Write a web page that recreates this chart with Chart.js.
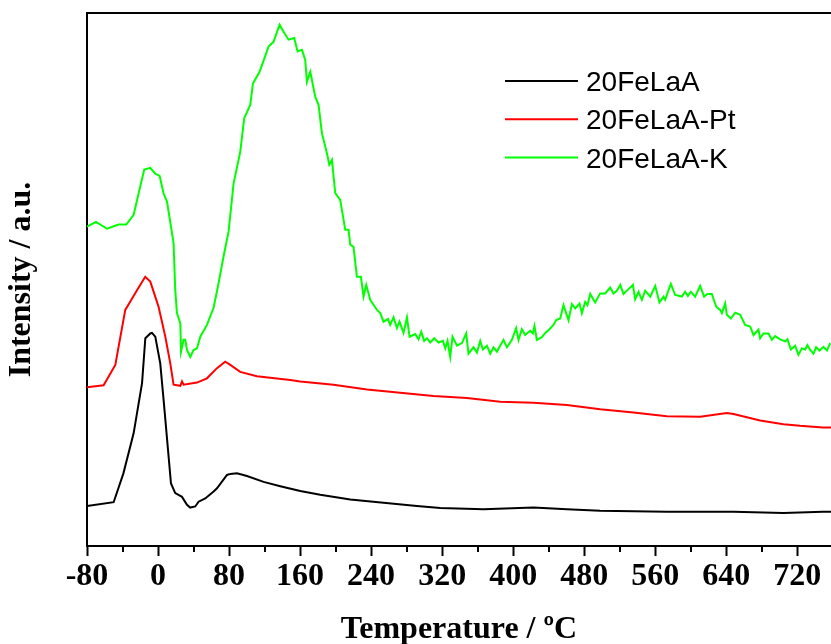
<!DOCTYPE html>
<html><head><meta charset="utf-8">
<script src="https://cdn.jsdelivr.net/npm/chart.js@4.4.0/dist/chart.umd.min.js"></script>
<style>html,body{margin:0;padding:0;background:#fff;}canvas{display:block;}</style>
</head><body>
<canvas id="c" width="831" height="644"></canvas>
<script>
// ---- data ----
const seriesNames = ['20FeLaA', '20FeLaA-Pt', '20FeLaA-K'];
const seriesColors = ['#000000', '#ff0000', '#00ff00'];
const xTickValues = [-80, 0, 80, 160, 240, 320, 400, 480, 560, 640, 720];
const xMinorTickValues = [-40, 40, 120, 200, 280, 360, 440, 520, 600, 680];

const tempFeLaA = [-80,-50,-39,-27.5,-18,-14.3,-8.7,-6.8,-3.1,2.5,6.3,14.6,19.4,27,32.6,36.3,41.9,45.7,53.2,62.6,66.4,77.7,81.4,88.9,100.2,118.9,137.7,160.2,182.7,216.5,254,291.6,317.9,366.6,422.9,460.5,498,573.1,648.2,704.5,748.8,758];
const intFeLaA  = [7.5,8.2,13.6,21.1,30.5,38.9,39.8,39.9,39.2,34.2,27.3,11.7,9.9,9.2,7.7,7.2,7.4,8.3,8.9,10.2,10.8,13.3,13.5,13.6,13.1,12.0,11.2,10.3,9.6,8.7,8.1,7.5,7.1,6.9,7.2,6.9,6.6,6.4,6.4,6.2,6.4,6.4];

const tempFeLaAPt = [-80,-61.3,-48.1,-36.9,-31.2,-23.7,-14.4,-8.7,0.6,8.2,13.8,17.5,25.1,27,28.8,43.9,55.1,66.4,75.7,81.4,92.6,111.4,148.9,160.2,197.7,235.3,272.8,310.3,347.9,385.4,422.9,460.5,498,535.5,573.1,610.6,640.7,648.2,678.2,704.5,723.2,748.8,758];
const intFeLaAPt  = [29.7,30.1,33.9,44.2,45.8,47.9,50.4,49.5,44.8,39.2,34.2,30.2,30.0,30.8,30.2,30.6,31.4,33.3,34.5,33.9,32.6,31.8,31.1,30.8,30.2,29.3,28.7,28.1,27.7,27.0,26.8,26.4,25.6,25.0,24.3,24.2,24.9,24.7,23.5,22.8,22.5,22.2,22.2];

const tempFeLaAK = [-80,-69.9,-57.5,-44.4,-35.7,-27.5,-21.9,-15.5,-8.7,-3.1,
  1.8,6.3,10.1,14.6,17.5,19.4,21.3,25.1,25.9,28.8,
  30.7,32.6,36.3,40,43.9,47.6,55.1,62.6,68.2,73.8,
  79.5,85.1,92.6,97.1,103.9,106.9,114.4,124.5,130.1,136.9,
  141.4,147,153.4,157.2,162.1,165.8,167.7,171.5,177.1,180.8,
  184.6,190.3,192.9,195.9,199.6,205.2,210.9,214.6,216.5,220.2,
  224,228.5,231.5,234.5,239,246.6,250.3,254,259,261.5,
  265.3,269.1,272,276.5,280.4,283.3,289.7,293.4,296.5,299.8,
  302.9,306.6,311.1,315.9,320.9,323.5,326.1,329.1,331.7,336.7,
  342.3,347.1,349.7,355.3,359.2,362.9,365.9,370.4,374.2,377.9,
  381.7,389.1,393,398.6,403.4,406,409.8,413.6,419.2,422.2,
  424,426.7,432.4,436.1,439.8,445.4,448.5,453,456.7,462.3,
  466.2,469.9,474.7,477.4,481.1,483.7,486.8,492.4,498,503.7,
  509.3,513,516.8,520.6,524.3,529.9,534.9,537.4,541.2,545,
  548.7,554.4,560,564.8,569.3,571.2,577.6,582.5,590,593.7,
  596.8,600.2,605,610.6,615.1,618.9,623.8,628.7,633.2,635.1,
  638.8,640.7,645.2,650.1,655.7,661.3,667,670.7,676.3,678.2,
  681.9,687.6,691.4,695.1,700.7,706.4,709,712.8,717.6,721.3,
  725.2,728.9,731.5,734.5,738.3,741.3,745,749.5,753.4,757.1];
const intFeLaAK = [59.8,60.7,59.4,60.2,60.2,62.0,66.0,70.5,70.8,69.7,
  69.3,66.0,64.5,59.8,56.7,47.9,43.6,41.7,36.4,38.6,
  38.6,36.7,35.4,36.7,37.0,39.2,41.4,44.6,49.2,54.2,
  58.9,67.9,73.8,80.1,82.6,86.6,88.8,93.5,94.4,97.6,
  96.3,94.8,95.1,92.6,92.9,91.0,86.9,88.8,84.1,82.6,
  77.3,73.5,71.4,72.3,66.1,64.8,59.2,59.2,56.4,56.0,
  50.4,50.4,46.7,48.9,46.1,44.2,43.6,42.0,42.5,41.4,
  42.8,40.8,42.0,39.9,42.8,39.2,39.7,38.7,40.1,38.4,
  38.9,38.1,38.9,38.1,38.4,37.0,38.4,35.4,39.2,37.5,
  38.0,39.8,36.0,37.2,36.2,38.4,36.8,37.5,36.0,37.2,
  36.4,38.6,37.2,38.6,40.8,38.6,40.6,39.5,40.3,39.8,
  41.2,38.6,39.1,39.9,40.4,41.4,42.3,42.6,45.1,42.3,
  45.3,44.5,45.4,43.6,45.7,45.1,47.2,45.6,47.3,47.3,
  48.4,47.3,47.8,48.9,47.2,48.1,48.9,46.2,47.6,46.1,
  47.8,46.7,48.7,45.6,46.7,46.1,49.1,47.0,46.7,47.6,
  46.8,47.6,46.7,48.7,46.7,47.2,47.2,44.8,44.2,43.6,
  45.4,43.3,42.6,43.7,43.3,41.4,41.1,39.5,40.5,38.9,
  39.8,39.8,38.6,39.3,38.7,38.3,38.7,36.8,37.5,35.8,
  37.0,36.8,37.6,36.7,36.0,37.2,36.6,37.3,36.6,38.0];

// ---- build ----
const toPoints = (xs, ys) => xs.map((x, i) => ({x: x, y: ys[i]}));
const temps = [tempFeLaA, tempFeLaAPt, tempFeLaAK];
const ints = [intFeLaA, intFeLaAPt, intFeLaAK];

const serif = '"Liberation Serif", "Times New Roman", Times, serif';

const frameAndLegend = {
  id: 'frameAndLegend',
  afterDraw(chart) {
    const {ctx, chartArea} = chart;
    const xs = chart.scales.x;
    ctx.save();
    // top frame line
    ctx.strokeStyle = '#000';
    ctx.lineWidth = 2;
    ctx.beginPath();
    ctx.moveTo(chartArea.left - 1, chartArea.top);
    ctx.lineTo(chartArea.right, chartArea.top);
    ctx.stroke();
    // minor ticks
    xMinorTickValues.forEach(v => {
      const px = Math.round(xs.getPixelForValue(v));
      ctx.beginPath();
      ctx.moveTo(px, chartArea.bottom);
      ctx.lineTo(px, chartArea.bottom + 6);
      ctx.stroke();
    });
    // legend
    ctx.font = '28px "Liberation Sans", Arial, sans-serif';
    ctx.textBaseline = 'alphabetic';
    ctx.textAlign = 'left';
    chart.data.datasets.forEach((ds, i) => {
      const y = 81 + i * 38.3;
      ctx.strokeStyle = ds.borderColor;
      ctx.lineWidth = 2;
      ctx.beginPath();
      ctx.moveTo(505, y);
      ctx.lineTo(578, y);
      ctx.stroke();
      ctx.fillStyle = '#000';
      ctx.fillText(ds.label, 586, y + 10);
    });
    ctx.restore();
  }
};

new Chart(document.getElementById('c'), {
  type: 'line',
  data: {
    datasets: seriesNames.map((name, i) => ({
      label: name,
      data: toPoints(temps[i], ints[i]),
      borderColor: seriesColors[i],
      backgroundColor: seriesColors[i],
      borderWidth: 2,
      pointRadius: 0,
      tension: 0,
      fill: false
    }))
  },
  options: {
    responsive: false,
    animation: false,
    devicePixelRatio: 1,
    layout: {padding: {top: 13, left: 0, right: 0, bottom: 0}},
    plugins: {legend: {display: false}, tooltip: {enabled: false}},
    scales: {
      x: {
        type: 'linear',
        position: 'bottom',
        min: -80,
        max: 758,
        afterBuildTicks: s => { s.ticks = xTickValues.map(v => ({value: v})); },
        afterFit: s => { s.height = 98; },
        ticks: {
          color: '#000',
          autoSkip: false,
          maxRotation: 0,
          includeBounds: false,
          padding: 2,
          font: {family: serif, size: 32, weight: 'bold'},
          callback: v => String(v)
        },
        grid: {display: true, drawOnChartArea: false, drawTicks: true, tickLength: 10, tickWidth: 2, tickColor: '#000'},
        border: {display: true, color: '#000', width: 2},
        title: {
          display: true,
          text: 'Temperature / ºC',
          color: '#000',
          padding: 0,
          font: {family: serif, size: 32, weight: 'bold', lineHeight: 0.92}
        }
      },
      y: {
        type: 'linear',
        min: 0,
        max: 99.8,
        afterFit: s => { s.width = 87; },
        ticks: {display: false},
        grid: {display: false},
        border: {display: true, color: '#000', width: 2},
        title: {
          display: true,
          text: 'Intensity / a.u.',
          color: '#000',
          padding: {top: 3, bottom: 0},
          font: {family: serif, size: 32, weight: 'bold'}
        }
      }
    }
  },
  plugins: [frameAndLegend]
});
</script>
</body></html>
